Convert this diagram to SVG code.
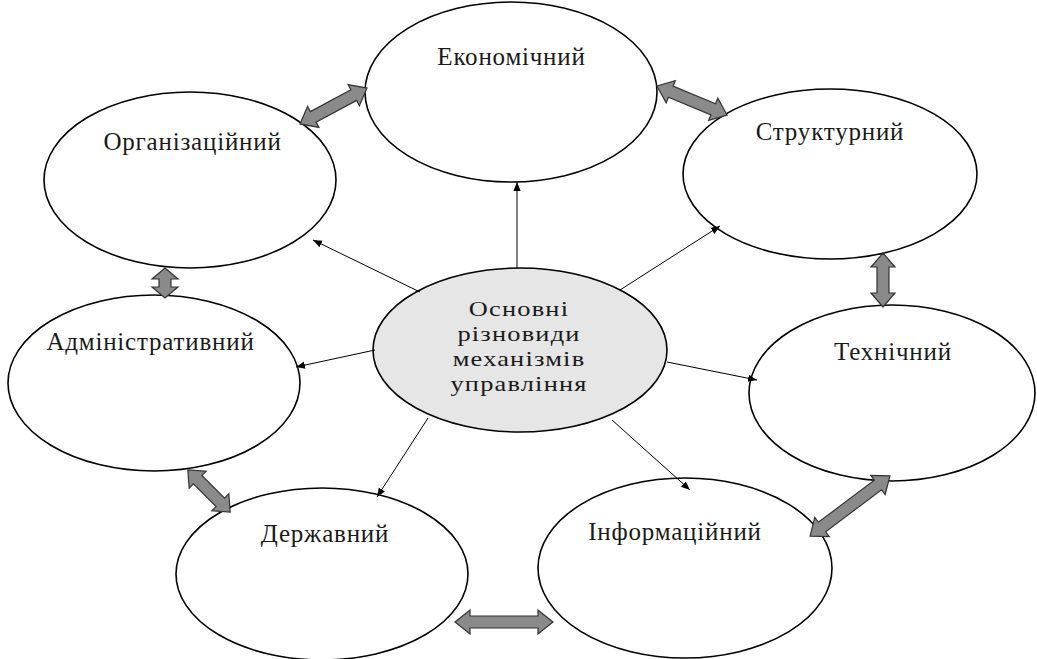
<svg xmlns="http://www.w3.org/2000/svg" width="1037" height="659" viewBox="0 0 1037 659">
<defs>
<style>
.n{fill:#fff;stroke:#000;stroke-width:1.6}
.c{fill:#e6e6e6;stroke:#000;stroke-width:1.6}
.t{font-family:"Liberation Serif","Times New Roman",serif;font-size:25px;letter-spacing:0.8px;fill:#1a1a1a;text-anchor:middle}
.tc{font-family:"Liberation Serif","Times New Roman",serif;font-size:22px;letter-spacing:1px;fill:#1a1a1a;text-anchor:middle}
.ln{stroke:#000;stroke-width:1;fill:none;marker-end:url(#ah)}
.da{fill:#8a8a8a;stroke:#333;stroke-width:1.2;stroke-linejoin:miter}
</style>
<marker id="ah" viewBox="0 0 10 10" refX="10" refY="5" markerWidth="9" markerHeight="9" markerUnits="userSpaceOnUse" orient="auto">
<path d="M0,1 L10,5 L0,9 Z" fill="#000"/>
</marker>
</defs>
<rect width="1037" height="659" fill="#fff"/>
<g id="economic"><ellipse class="n" cx="511" cy="92" rx="146" ry="90"/><text class="t" x="511.5" y="65">Економічний</text></g>
<g id="organizational"><ellipse class="n" cx="190" cy="180" rx="146" ry="88"/><text class="t" x="192.5" y="150">Організаційний</text></g>
<g id="structural"><ellipse class="n" cx="830" cy="174" rx="147" ry="85"/><text class="t" x="830" y="140">Структурний</text></g>
<g id="administrative"><ellipse class="n" cx="154" cy="383" rx="146" ry="88"/><text class="t" x="150.5" y="350">Адміністративний</text></g>
<g id="technical"><ellipse class="n" cx="892" cy="393" rx="143" ry="88"/><text class="t" x="893" y="360">Технічний</text></g>
<g id="state"><ellipse class="n" cx="322" cy="574" rx="146" ry="86"/><text class="t" x="325" y="542">Державний</text></g>
<g id="informational"><ellipse class="n" cx="685" cy="568" rx="147" ry="90"/><text class="t" x="675" y="540">Інформаційний</text></g>
<g id="center"><ellipse class="c" cx="520" cy="350" rx="147" ry="82"/>
<g transform="translate(519,0) scale(1.2,1)">
<text class="tc" x="0" y="316">Основні</text>
<text class="tc" x="0" y="341">різновиди</text>
<text class="tc" x="0" y="366">механізмів</text>
<text class="tc" x="0" y="391">управління</text>
</g></g>
<g id="connectors">
<line class="ln" x1="517" y1="268" x2="517" y2="182"/>
<line class="ln" x1="420" y1="292" x2="313" y2="240"/>
<line class="ln" x1="620" y1="290" x2="720" y2="226"/>
<line class="ln" x1="375" y1="350" x2="296" y2="367"/>
<line class="ln" x1="667" y1="362" x2="757" y2="380"/>
<line class="ln" x1="428" y1="418" x2="377" y2="497"/>
<line class="ln" x1="612" y1="420" x2="690" y2="490"/>
<path class="da" transform="translate(333.5,106) rotate(-28.2)" d="M-38,0 L-23,-12 L-23,-6 L23,-6 L23,-12 L38,0 L23,12 L23,6 L-23,6 L-23,12 Z"/>
<path class="da" transform="translate(692,100.5) rotate(22.5)" d="M-38,0 L-23,-12 L-23,-6 L23,-6 L23,-12 L38,0 L23,12 L23,6 L-23,6 L-23,12 Z"/>
<path class="da" transform="translate(165,283) rotate(90)" d="M-15,0 L-4,-13 L-4,-6 L4,-6 L4,-13 L15,0 L4,13 L4,6 L-4,6 L-4,13 Z"/>
<path class="da" transform="translate(883,280) rotate(90)" d="M-27,0 L-13,-12 L-13,-6 L13,-6 L13,-12 L27,0 L13,12 L13,6 L-13,6 L-13,12 Z"/>
<path class="da" transform="translate(209,491) rotate(45)" d="M-30,0 L-16,-12 L-16,-6 L16,-6 L16,-12 L30,0 L16,12 L16,6 L-16,6 L-16,12 Z"/>
<path class="da" transform="translate(850,506) rotate(143)" d="M-50,0 L-35,-12 L-35,-6 L35,-6 L35,-12 L50,0 L35,12 L35,6 L-35,6 L-35,12 Z"/>
<path class="da" transform="translate(504,622)" d="M-49,0 L-34,-12 L-34,-6 L34,-6 L34,-12 L49,0 L34,12 L34,6 L-34,6 L-34,12 Z"/>
</g>
</svg>
